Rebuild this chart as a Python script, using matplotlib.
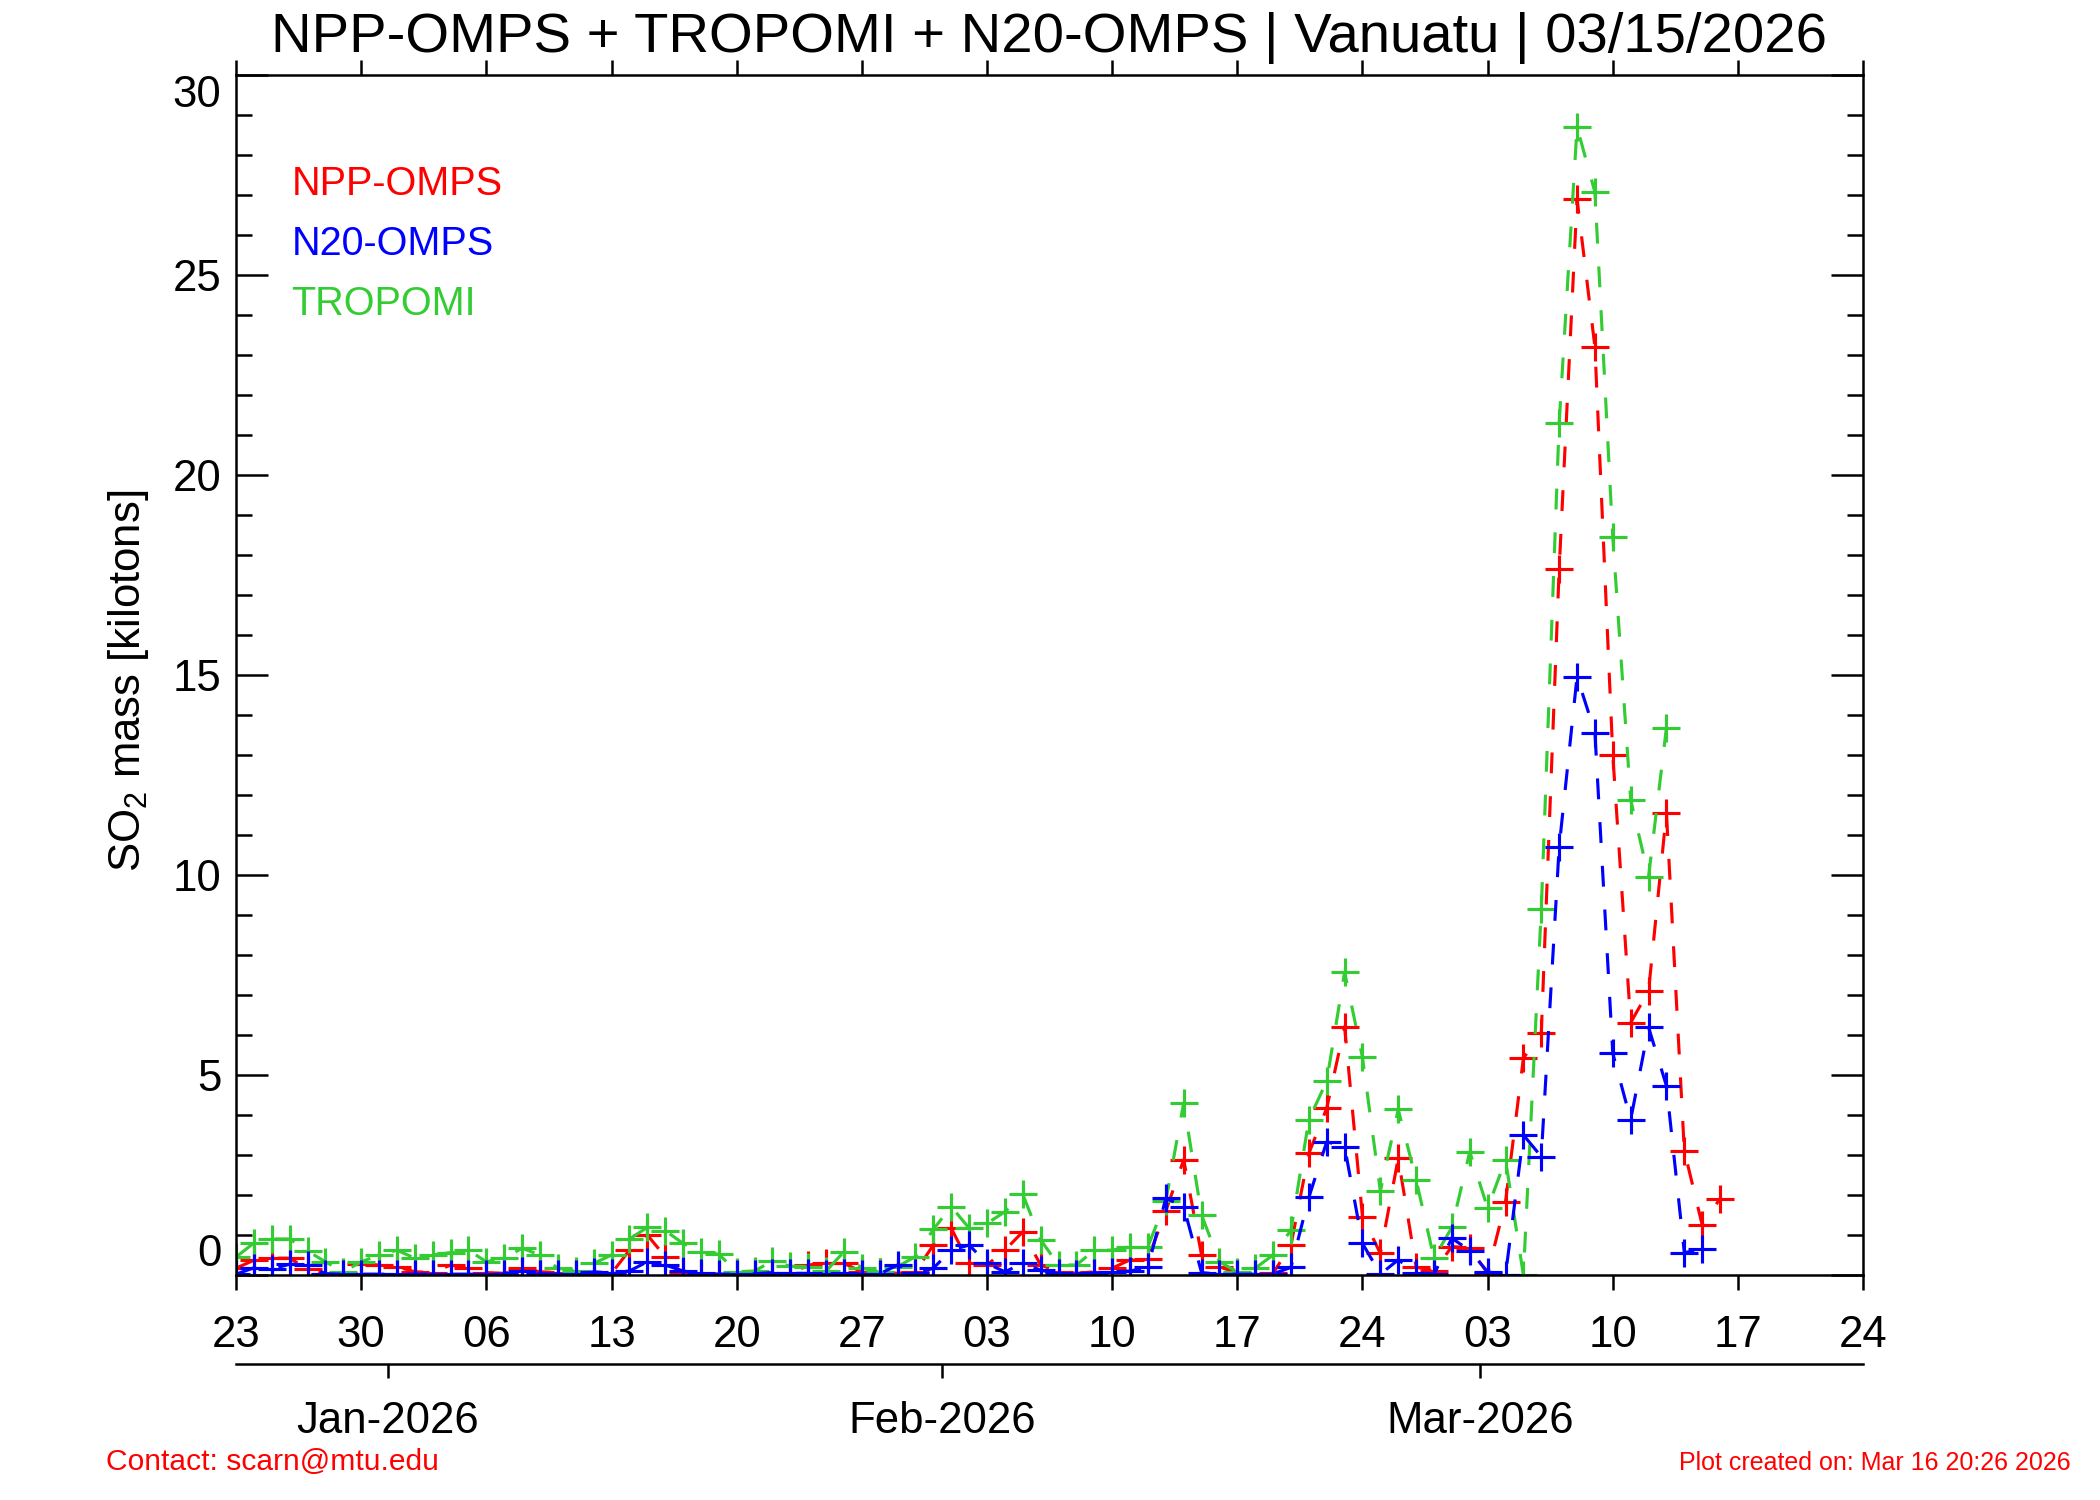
import numpy as np
import pandas as pd
import matplotlib
matplotlib.use('Agg')
import matplotlib.pyplot as plt

plt.rcParams['font.family'] = ['Liberation Sans', 'DejaVu Sans']
plt.rcParams['mathtext.default'] = 'regular'
plt.rcParams['lines.scale_dashes'] = False

# -------------------------- DATA (kilotons SO2, one value per day) --------------------------
start = pd.Timestamp('2025-12-23')

npp_omps = [0.17, 0.37, 0.42, 0.42, 0.15, 0.02, 0.04, 0.27, 0.25, 0.21,
            0.08, 0.06, 0.25, 0.17, 0.06, 0.04, 0.17, 0.08, 0.06, 0.04,
            0.02, 0.04, 0.62, 1.00, 0.46, 0.04, 0.00, 0.02, 0.02, 0.02,
            0.02, 0.02, 0.25, 0.29, 0.29, 0.08, 0.08, 0.04, 0.08, 0.75,
            1.17, 0.29, 0.25, 0.62, 1.08, 0.25, 0.08, 0.04, 0.08, 0.17,
            0.38, 0.40, 1.60, 2.88, 0.50, 0.20, 0.06, 0.02, 0.04, 0.75,
            3.04, 4.17, 6.21, 1.46, 0.54, 2.92, 0.20, 0.10, 0.71, 0.68,
            0.04, 1.83, 5.42, 6.04, 17.64, 26.90, 23.20, 13.00, 6.31, 7.10,
            11.56, 3.11, 1.25, 1.91]

n20_omps = [0.02, 0.18, 0.15, 0.27, 0.25, 0.03, 0.02, 0.02, 0.02, 0.02,
            0.02, 0.02, 0.02, 0.02, 0.02, 0.02, 0.10, 0.03, 0.02, 0.02,
            0.08, 0.05, 0.10, 0.33, 0.25, 0.10, 0.04, 0.02, 0.02, 0.03,
            0.06, 0.04, 0.04, 0.02, 0.04, 0.02, 0.03, 0.25, 0.04, 0.17,
            0.62, 0.75, 0.29, 0.08, 0.29, 0.12, 0.04, 0.03, 0.05, 0.08,
            0.10, 0.19, 1.92, 1.71, 0.06, 0.02, 0.02, 0.02, 0.03, 0.19,
            1.94, 3.33, 3.21, 0.79, 0.02, 0.38, 0.06, 0.02, 0.92, 0.61,
            0.08, 0.00, 3.50, 2.96, 10.70, 14.96, 13.56, 5.54, 3.88, 6.19,
            4.73, 0.56, 0.64]

tropomi = [0.45, 0.80, 0.90, 0.90, 0.60, 0.33, 0.08, 0.33, 0.50, 0.62,
           0.42, 0.50, 0.56, 0.62, 0.33, 0.42, 0.67, 0.50, 0.17, 0.11,
           0.29, 0.50, 0.90, 1.19, 1.11, 0.79, 0.58, 0.52, 0.08, 0.10,
           0.35, 0.22, 0.21, 0.10, 0.58, 0.17, 0.08, 0.21, 0.46, 1.14,
           1.71, 1.17, 1.29, 1.58, 2.02, 0.88, 0.25, 0.25, 0.62, 0.62,
           0.71, 0.71, 1.85, 4.30, 1.50, 0.33, 0.08, 0.17, 0.50, 1.12,
           3.88, 4.85, 7.57, 5.44, 2.10, 4.14, 2.38, 0.42, 1.19, 3.08,
           1.67, 2.88, 0.00, 9.14, 21.30, 28.70, 27.07, 18.44, 11.88, 9.96,
           13.68]


def day_offsets(values):
    dates = pd.date_range(start, periods=len(values), freq='D')
    return np.asarray((dates - start).days, dtype=float)


day_ticks = np.arange(0, 92, 7)
day_labels = ['23', '30', '06', '13', '20', '27', '03', '10', '17', '24',
              '03', '10', '17', '24']
month_pos = [8.5, 39.5, 69.6]
month_labels = ['Jan-2026', 'Feb-2026', 'Mar-2026']

RED = '#ff0000'
BLUE = '#0000ff'
GREEN = '#33cc33'
DASH = (0, (10, 11))

# -------------------------- FIGURE --------------------------
fig = plt.figure(figsize=(14, 10), dpi=150)
ax = fig.add_axes([0.1124, 0.15, 0.7748, 0.80])

style = dict(ls=DASH, lw=1.5, marker='+', ms=13, mew=1.5)
ax.plot(day_offsets(npp_omps), npp_omps, color=RED, **style)
ax.plot(day_offsets(tropomi), tropomi, color=GREEN, **style)
ax.plot(day_offsets(n20_omps), n20_omps, color=BLUE, **style)

ax.set_xlim(0, 91)
ax.set_ylim(0, 30)
for sp in ax.spines.values():
    sp.set_linewidth(1.2)

ax.set_xticks(day_ticks, day_labels)
ax.tick_params(axis='x', which='major', direction='out', length=7, width=1.2,
               top=True, bottom=True, labelsize=21, pad=12)
ax.set_yticks(np.arange(0, 31, 5))
ax.set_yticks(np.arange(0, 31, 1), minor=True)
ax.tick_params(axis='y', which='major', direction='in', length=15.5, width=1.2,
               left=True, right=True, labelsize=21, pad=7)
ax.tick_params(axis='y', which='minor', direction='in', length=7.7, width=1.2,
               left=True, right=True)
ylabels = ax.get_yticklabels()
ylabels[0].set_va('bottom')
ylabels[-1].set_va('top')

# legend as coloured text
ax.text(3.1, 27.0, 'NPP-OMPS', color=RED, fontsize=19, va='baseline')
ax.text(3.1, 25.5, 'N20-OMPS', color=BLUE, fontsize=19, va='baseline')
ax.text(3.1, 24.0, 'TROPOMI', color=GREEN, fontsize=19, va='baseline')

# month axis below
ax2 = fig.add_axes([0.1124, 0.0907, 0.7748, 0.001])
ax2.patch.set_visible(False)
for name in ['top', 'left', 'right']:
    ax2.spines[name].set_visible(False)
ax2.spines['bottom'].set_linewidth(1.2)
ax2.set_xlim(0, 91)
ax2.set_yticks([])
ax2.set_xticks(month_pos, month_labels)
ax2.tick_params(axis='x', direction='out', length=6.7, width=1.2,
                labelsize=21, pad=11)

fig.text(0.061, 0.546, 'SO$_2$ mass [kilotons]', rotation=90,
         ha='center', va='center', fontsize=21)
fig.text(0.4995, 0.965, 'NPP-OMPS + TROPOMI + N20-OMPS | Vanuatu | 03/15/2026',
         ha='center', va='baseline', fontsize=27)
fig.text(0.0505, 0.02, 'Contact: scarn@mtu.edu', color=RED, fontsize=14.4,
         va='baseline')
fig.text(0.986, 0.02, 'Plot created on: Mar 16 20:26 2026', color=RED,
         fontsize=12, ha='right', va='baseline')

fig.savefig('out.png', dpi=150)
